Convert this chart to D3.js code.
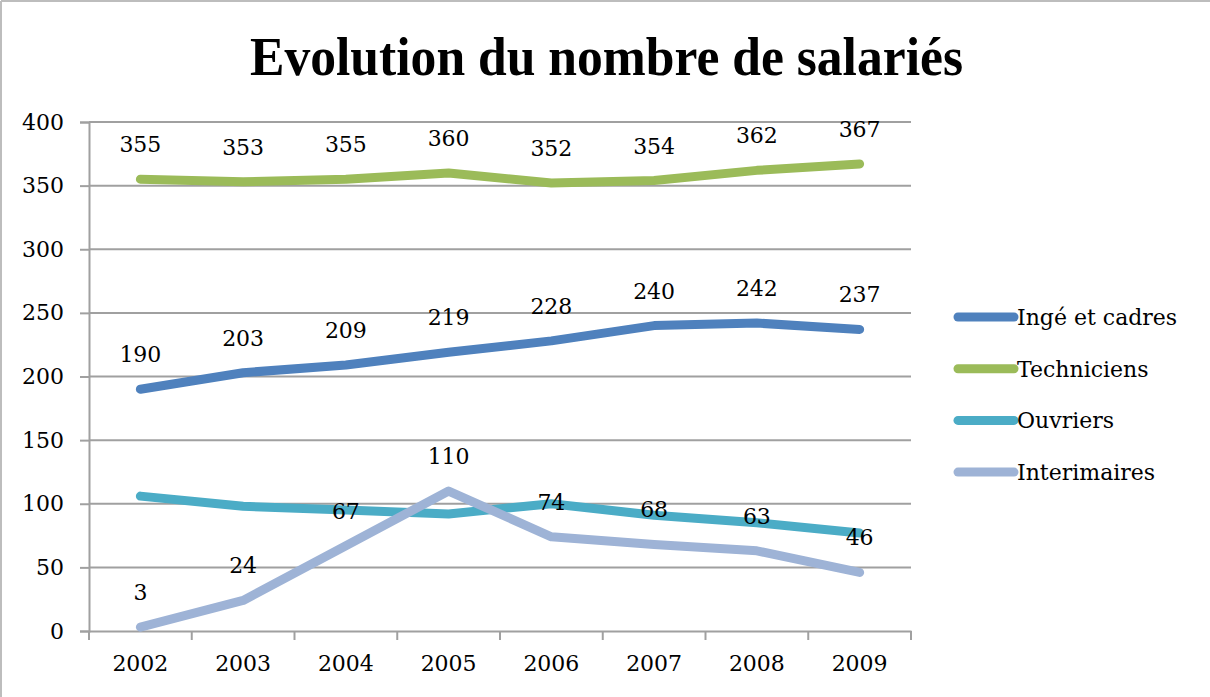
<!DOCTYPE html>
<html>
<head>
<meta charset="utf-8">
<script src="https://cdn.jsdelivr.net/npm/d3@7"></script>
<style>
  html, body { margin: 0; padding: 0; background: #fff; }
  svg { display: block; }
  text { font-family: "DejaVu Serif", "Liberation Serif", serif; }
</style>
</head>
<body>
<svg id="chart" width="1210" height="697"></svg>
<script>
// Chart data
const years = ["2002", "2003", "2004", "2005", "2006", "2007", "2008", "2009"];
const seriesNames = ["Ingé et cadres", "Techniciens", "Ouvriers", "Interimaires"];
const ingeCadres   = [190, 203, 209, 219, 228, 240, 242, 237];
const techniciens  = [355, 353, 355, 360, 352, 354, 362, 367];
const ouvriers     = [106, 98, 95, 92, 100, 91, 85, 77];
const interimaires = [3, 24, 67, 110, 74, 68, 63, 46];
const yTicks = [0, 50, 100, 150, 200, 250, 300, 350, 400];
const colors = ["#4F81BD", "#9BBB59", "#4BACC6", "#9EB3D6"];
const showLabels = [true, true, false, true];

const series = [ingeCadres, techniciens, ouvriers, interimaires].map((values, i) => ({
  name: seriesNames[i], values, color: colors[i], labels: showLabels[i]
}));

const svg = d3.select("#chart");
const W = 1210, H = 697;
const plot = { left: 89, right: 911, top: 122, bottom: 631 };
const fontSize = "22px";

// outer frame (top and left edges visible)
svg.append("line").attr("x1", 1).attr("y1", 1).attr("x2", W).attr("y2", 1)
  .attr("stroke", "#bdbdbd").attr("stroke-width", 2);
svg.append("line").attr("x1", 1).attr("y1", 1).attr("x2", 1).attr("y2", H)
  .attr("stroke", "#bdbdbd").attr("stroke-width", 2);

// title
svg.append("text")
  .attr("x", 250).attr("y", 75)
  .attr("textLength", 713)
  .attr("lengthAdjust", "spacingAndGlyphs")
  .style("font-family", "'Liberation Serif', serif")
  .style("font-weight", "bold")
  .style("font-size", "54px")
  .text("Evolution du nombre de salariés");

const x = d3.scaleBand().domain(years).range([plot.left, plot.right]);
const y = d3.scaleLinear().domain([0, 400]).range([plot.bottom, plot.top]);

// horizontal gridlines
svg.append("g").selectAll("line").data(yTicks.filter(t => t > 0)).join("line")
  .attr("x1", plot.left).attr("x2", plot.right)
  .attr("y1", d => y(d)).attr("y2", d => y(d))
  .attr("stroke", "#a0a0a0").attr("stroke-width", 2);

// y axis
const yAxis = svg.append("g")
  .attr("transform", `translate(${plot.left},0)`)
  .call(d3.axisLeft(y).tickValues(yTicks).tickSize(9).tickPadding(16));
yAxis.select(".domain").attr("stroke", "#a0a0a0").attr("stroke-width", 2);
yAxis.selectAll(".tick line").attr("stroke", "#a0a0a0").attr("stroke-width", 2);
yAxis.selectAll(".tick text")
  .style("font-family", "'DejaVu Serif', serif")
  .style("font-size", fontSize).attr("fill", "#000");

// x axis with ticks on category boundaries
const xAxis = svg.append("g")
  .attr("transform", `translate(0,${plot.bottom})`)
  .call(d3.axisBottom(x).tickSize(0).tickPadding(24));
xAxis.select(".domain").attr("stroke", "#a0a0a0").attr("stroke-width", 2);
xAxis.selectAll(".tick text")
  .style("font-family", "'DejaVu Serif', serif")
  .style("font-size", fontSize).attr("fill", "#000");
const bounds = years.map(d => x(d)).concat([x(years[years.length - 1]) + x.bandwidth()]);
svg.append("g").selectAll("line").data(bounds).join("line")
  .attr("x1", d => d).attr("x2", d => d)
  .attr("y1", plot.bottom).attr("y2", plot.bottom + 9)
  .attr("stroke", "#a0a0a0").attr("stroke-width", 2);

const cx = d => x(d) + x.bandwidth() / 2;
const line = d3.line().x((v, i) => cx(years[i])).y(v => y(v));

// series lines
svg.append("g").selectAll("path").data(series).join("path")
  .attr("d", s => line(s.values))
  .attr("fill", "none")
  .attr("stroke", s => s.color)
  .attr("stroke-width", 9)
  .attr("stroke-linejoin", "round")
  .attr("stroke-linecap", "round");

// value labels
series.filter(s => s.labels).forEach(s => {
  svg.append("g").selectAll("text").data(s.values).join("text")
    .attr("x", (v, i) => cx(years[i]))
    .attr("y", v => y(v) - 27)
    .attr("text-anchor", "middle")
    .style("font-family", "'DejaVu Serif', serif")
    .style("font-size", fontSize)
    .attr("fill", "#000")
    .text(v => v);
});

// legend
const legend = svg.append("g").selectAll("g").data(series).join("g")
  .attr("transform", (s, i) => `translate(958,${317 + i * 51.7})`);
legend.append("line")
  .attr("x1", 0).attr("x2", 56).attr("y1", 0).attr("y2", 0)
  .attr("stroke", s => s.color).attr("stroke-width", 9)
  .attr("stroke-linecap", "round");
legend.append("text")
  .attr("x", 59).attr("y", 8)
  .style("font-family", "'DejaVu Serif', serif")
  .style("font-size", fontSize)
  .attr("fill", "#000")
  .text(s => s.name);
</script>
</body>
</html>
